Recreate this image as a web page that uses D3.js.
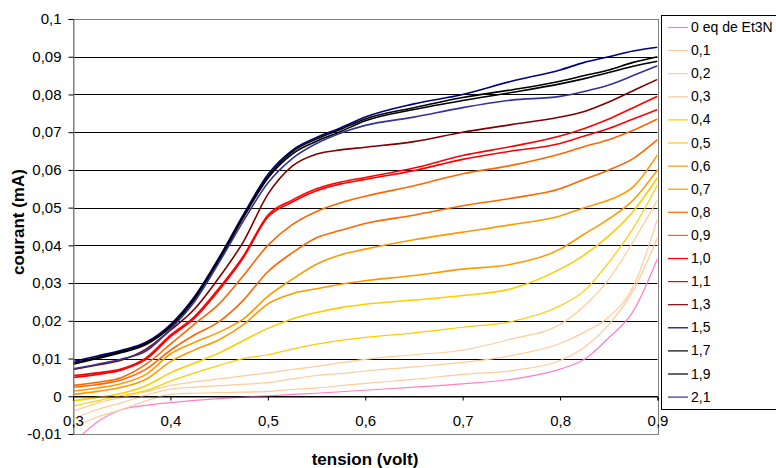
<!DOCTYPE html>
<html>
<head>
<meta charset="utf-8">
<script src="https://cdn.jsdelivr.net/npm/d3@7"></script>
<style>
  html, body { margin: 0; padding: 0; background: #fff; }
  svg { display: block; }
  text { font-family: "Liberation Sans", Arial, sans-serif; }
</style>
</head>
<body>
<svg id="chart" width="776" height="468"></svg>
<script>
// ---- data ----
const voltage = [0.30,0.325,0.35,0.375,0.40,0.425,0.45,0.475,0.50,0.525,0.55,0.575,0.60,0.65,0.70,0.75,0.80,0.825,0.85,0.875,0.90];

const eq00 = [-0.0125,-0.0068,-0.0035,-0.0024,-0.0017,-0.0011,-0.0006,-0.0002,0.0001,0.0005,0.0008,0.0012,0.0016,0.0024,0.0033,0.0045,0.0072,0.0098,0.0155,0.0225,0.0365];
const eq01 = [-0.0083,-0.0055,-0.0035,-0.0012,0.0005,0.0008,0.0010,0.0011,0.0013,0.0018,0.0022,0.0028,0.0034,0.0045,0.0058,0.0068,0.0095,0.0130,0.0190,0.0280,0.0420];
const eq02 = [-0.0060,-0.0035,-0.0017,0.0003,0.0019,0.0024,0.0028,0.0032,0.0036,0.0046,0.0055,0.0060,0.0067,0.0078,0.0090,0.0108,0.0140,0.0170,0.0210,0.0290,0.0470];
const eq03 = [-0.0040,-0.0018,-0.0003,0.0012,0.0029,0.0038,0.0046,0.0054,0.0062,0.0071,0.0079,0.0089,0.0098,0.0110,0.0122,0.0152,0.0190,0.0240,0.0310,0.0410,0.0520];
const eq04 = [-0.0026,-0.0012,0.0002,0.0015,0.0040,0.0062,0.0082,0.0100,0.0110,0.0125,0.0138,0.0148,0.0156,0.0168,0.0183,0.0198,0.0240,0.0280,0.0355,0.0445,0.0560];
const eq05 = [-0.0012,-0.0003,0.0008,0.0028,0.0062,0.0088,0.0115,0.0148,0.0180,0.0205,0.0222,0.0235,0.0244,0.0255,0.0267,0.0285,0.0337,0.0375,0.0425,0.0490,0.0580];
const eq06 = [0.0005,0.0013,0.0024,0.0045,0.0092,0.0123,0.0150,0.0190,0.0245,0.0272,0.0285,0.0297,0.0306,0.0320,0.0337,0.0350,0.0390,0.0430,0.0470,0.0520,0.0600];
const eq07 = [0.0014,0.0022,0.0034,0.0058,0.0112,0.0143,0.0170,0.0205,0.0265,0.0310,0.0350,0.0375,0.0390,0.0415,0.0435,0.0455,0.0478,0.0500,0.0520,0.0555,0.0640];
const eq08 = [0.0024,0.0031,0.0044,0.0072,0.0122,0.0163,0.0198,0.0255,0.0330,0.0380,0.0420,0.0440,0.0458,0.0480,0.0505,0.0525,0.0550,0.0575,0.0600,0.0630,0.0680];
const eq09 = [0.0029,0.0037,0.0050,0.0085,0.0138,0.0192,0.0245,0.0320,0.0400,0.0455,0.0490,0.0513,0.0530,0.0558,0.0590,0.0612,0.0642,0.0662,0.0680,0.0705,0.0735];
const eq10 = [0.0050,0.0058,0.0070,0.0098,0.0158,0.0208,0.0282,0.0368,0.0475,0.0515,0.0545,0.0563,0.0575,0.0598,0.0628,0.0650,0.0670,0.0690,0.0710,0.0735,0.0760];
const eq11 = [0.0055,0.0062,0.0073,0.0102,0.0162,0.0212,0.0287,0.0372,0.0480,0.0520,0.0550,0.0568,0.0580,0.0605,0.0638,0.0662,0.0690,0.0710,0.0735,0.0765,0.0795];
const eq13 = [0.0071,0.0083,0.0096,0.0125,0.0175,0.0232,0.0315,0.0410,0.0535,0.0610,0.0642,0.0653,0.0660,0.0675,0.0700,0.0720,0.0740,0.0755,0.0780,0.0810,0.0840];
const eq15 = [0.0092,0.0107,0.0122,0.0143,0.0190,0.0265,0.0368,0.0482,0.0588,0.0652,0.0686,0.0712,0.0740,0.0775,0.0800,0.0835,0.0865,0.0885,0.0900,0.0915,0.0925];
const eq17 = [0.0088,0.0103,0.0119,0.0140,0.0187,0.0262,0.0365,0.0478,0.0582,0.0648,0.0682,0.0708,0.0735,0.0765,0.0792,0.0812,0.0835,0.0850,0.0865,0.0885,0.0900];
const eq19 = [0.0085,0.0100,0.0116,0.0137,0.0183,0.0258,0.0360,0.0474,0.0578,0.0642,0.0676,0.0702,0.0730,0.0760,0.0784,0.0805,0.0828,0.0842,0.0858,0.0875,0.0888];
const eq21 = [0.0073,0.0085,0.0099,0.0120,0.0178,0.0252,0.0355,0.0465,0.0565,0.0630,0.0670,0.0698,0.0718,0.0740,0.0765,0.0785,0.0795,0.0808,0.0825,0.0850,0.0876];

const seriesNames = ["0 eq de Et3N","0,1","0,2","0,3","0,4","0,5","0,6","0,7","0,8","0,9","1,0","1,1","1,3","1,5","1,7","1,9","2,1"];
const seriesValues = [eq00,eq01,eq02,eq03,eq04,eq05,eq06,eq07,eq08,eq09,eq10,eq11,eq13,eq15,eq17,eq19,eq21];
const seriesColors = ["#ff7fc6","#ffcc99","#ffcc99","#ffcc99","#ffcc00","#ffcc00","#ff9900","#ff9900","#ff6600","#ff6600","#ff0000","#ff0000","#800000","#000080","#000000","#000000","#333399"];

const yTicks = [-0.01,0,0.01,0.02,0.03,0.04,0.05,0.06,0.07,0.08,0.09,0.1];
const xTicks = [0.3,0.4,0.5,0.6,0.7,0.8,0.9];

// ---- drawing ----
const svg = d3.select("#chart");
const L = 73, R = 657.5, T = 19, B = 434;
const x = d3.scaleLinear().domain([0.3, 0.9]).range([L, R]);
const y = d3.scaleLinear().domain([-0.01, 0.1]).range([B, T]);
const fmt = v => (Math.abs(v) < 1e-9 ? "0" : String(+v.toFixed(2)).replace(".", ","));

// gridlines
svg.append("g").selectAll("line")
  .data(yTicks.filter(v => v > -0.01 && v < 0.1))
  .join("line")
  .attr("x1", L).attr("x2", R)
  .attr("y1", d => Math.round(y(d)) + 0.5).attr("y2", d => Math.round(y(d)) + 0.5)
  .attr("stroke", "#000").attr("stroke-width", 1);

// plot border
svg.append("rect")
  .attr("x", L + 0.5).attr("y", Math.round(T) + 0.5)
  .attr("width", Math.round(R - L)).attr("height", Math.round(B - T))
  .attr("fill", "none").attr("stroke", "#808080").attr("stroke-width", 1);

// series
const defs = svg.append("defs");
defs.append("clipPath").attr("id", "plotclip")
  .append("rect").attr("x", L).attr("y", T).attr("width", R - L).attr("height", B - T);

const line = d3.line()
  .x(d => x(d[0]))
  .y(d => y(d[1]))
  .curve(d3.curveMonotoneX);

const gLines = svg.append("g").attr("clip-path", "url(#plotclip)");
seriesValues.forEach((vals, i) => {
  gLines.append("path")
    .datum(voltage.map((v, k) => [v, vals[k]]))
    .attr("d", line)
    .attr("fill", "none")
    .attr("stroke", seriesColors[i])
    .attr("stroke-width", i >= 5 ? 1.6 : 1.2)
    .attr("stroke-linejoin", "round");
});

// y axis
const yAxis = d3.axisLeft(y).tickValues(yTicks).tickFormat(fmt).tickSize(5).tickPadding(7);
const gy = svg.append("g").attr("transform", `translate(${L + 0.5},0)`).call(yAxis);
gy.select(".domain").attr("stroke", "#808080");
gy.selectAll(".tick line").attr("stroke", "#000");
gy.selectAll("text").attr("font-size", 15).attr("fill", "#000")
  .attr("font-family", "'Liberation Sans', Arial, sans-serif");

// x axis at zero
const xAxis = d3.axisBottom(x).tickValues(xTicks).tickFormat(fmt).tickSize(4).tickPadding(15);
const gx = svg.append("g").attr("transform", `translate(0,${Math.round(y(0)) + 0.5})`).call(xAxis);
gx.select(".domain").attr("stroke", "#000");
gx.selectAll(".tick line").attr("stroke", "#000");
gx.selectAll("text").attr("font-size", 15).attr("fill", "#000")
  .attr("font-family", "'Liberation Sans', Arial, sans-serif");

// axis titles
svg.append("text")
  .attr("x", 365).attr("y", 465)
  .attr("text-anchor", "middle")
  .attr("font-size", 17).attr("font-weight", "bold")
  .text("tension (volt)");

svg.append("text")
  .attr("transform", "translate(24,222) rotate(-90)")
  .attr("text-anchor", "middle")
  .attr("font-size", 17).attr("font-weight", "bold")
  .text("courant (mA)");

// legend
const lg = svg.append("g");
lg.append("rect")
  .attr("x", 661.5).attr("y", 15.5).attr("width", 140).attr("height", 394)
  .attr("fill", "#fff").attr("stroke", "#000").attr("stroke-width", 1);
const items = lg.selectAll("g.item").data(seriesNames).join("g")
  .attr("class", "item")
  .attr("transform", (d, i) => `translate(0,${27 + i * 23.1})`);
items.append("line")
  .attr("x1", 668).attr("x2", 688).attr("y1", 0.5).attr("y2", 0.5)
  .attr("stroke", (d, i) => seriesColors[i]).attr("stroke-width", 1.2);
items.append("text")
  .attr("x", 691).attr("y", 5)
  .attr("font-size", 14).attr("fill", "#000")
  .text(d => d);
</script>
</body>
</html>
